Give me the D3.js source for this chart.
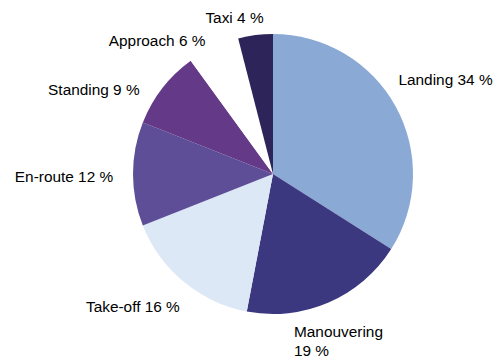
<!DOCTYPE html>
<html>
<head>
<meta charset="utf-8">
<script src="https://cdn.jsdelivr.net/npm/d3@7/dist/d3.min.js"></script>
<style>
  html, body { margin: 0; padding: 0; background: #fff; }
  svg { display: block; }
  text { font-family: "Liberation Sans", Arial, Helvetica, sans-serif; font-size: 15.4px; fill: #000; }
</style>
</head>
<body>
<svg id="chart" width="498" height="358"></svg>
<script>
// Share of each flight phase (percent), clockwise from 12 o'clock
const phases = ["Landing", "Manouvering", "Take-off", "En-route", "Standing", "Approach", "Taxi"];
const shares = [34, 19, 16, 12, 9, 6, 4];
const labelLines = [["Landing 34 %"], ["Manouvering", "19 %"], ["Take-off 16 %"], ["En-route 12 %"], ["Standing 9 %"], ["Approach 6 %"], ["Taxi 4 %"]];
const sliceColors = ["#8aa9d4", "#3c3880", "#dce8f6", "#5e4e97", "#643a88", "#ffffff", "#2d2459"];

// label placement: nudge from the slice's mid-angle point on the label ring
const labelNudge = [[6, 2.5, "middle"], [-54.5, -11.4, "start"], [-19, -8.4, "middle"], [-19, 8, "middle"], [-29, 37.5, "middle"], [-35, 44, "middle"], [-14.7, 37.5, "middle"]];

const cx = 273, cy = 174, radius = 140, labelRadius = 190;

const data = phases.map((p, i) => ({ phase: p, value: shares[i], lines: labelLines[i], color: sliceColors[i], nudge: labelNudge[i] }));

const pie = d3.pie().value(d => d.value).sort(null);
const arc = d3.arc().innerRadius(0).outerRadius(radius);

const svg = d3.select("#chart");
const g = svg.append("g").attr("transform", `translate(${cx},${cy})`);

const arcs = pie(data);

g.selectAll("path.slice")
  .data(arcs)
  .join("path")
  .attr("class", "slice")
  .attr("d", arc)
  .attr("fill", d => d.data.color);

const labels = g.selectAll("text.label")
  .data(arcs)
  .join("text")
  .attr("class", "label")
  .attr("text-anchor", d => d.data.nudge[2])
  .attr("transform", d => {
    const mid = (d.startAngle + d.endAngle) / 2;
    const x = Math.sin(mid) * labelRadius + d.data.nudge[0];
    const y = -Math.cos(mid) * labelRadius + d.data.nudge[1];
    return `translate(${x},${y})`;
  });

labels.selectAll("tspan")
  .data(d => d.data.lines)
  .join("tspan")
  .attr("x", 0)
  .attr("dy", (l, i) => i === 0 ? 0 : 19)
  .text(l => l);
</script>
</body>
</html>
